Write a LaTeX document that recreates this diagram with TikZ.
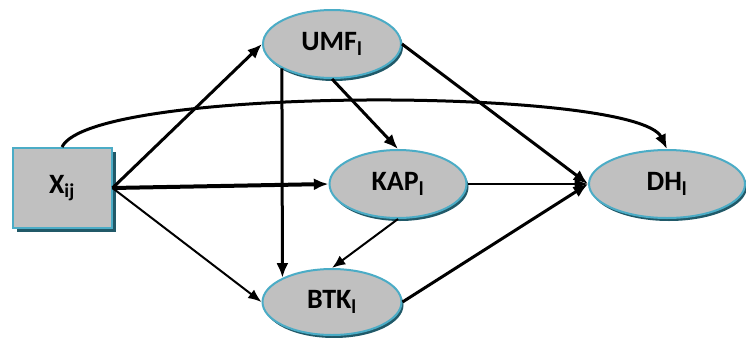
\documentclass[tikz,border=0pt]{standalone}
\usepackage{fontspec}
\setmainfont{Carlito}
\usetikzlibrary{shapes.geometric,shadows,arrows.meta}

\definecolor{nodegray}{RGB}{192,192,192}
\definecolor{rim}{RGB}{75,172,198}
\definecolor{shade}{RGB}{33,89,104}

\begin{document}
\begin{tikzpicture}[x=0.75pt,y=0.75pt,
    latent/.style={ellipse, fill=nodegray, draw=rim, line width=1.5pt, inner sep=0pt,
        drop shadow={shadow xshift=1.5pt, shadow yshift=-2.25pt, fill=shade, opacity=1},
        font=\fontsize{21}{24}\selectfont\bfseries},
    observed/.style={rectangle, fill=nodegray, draw=rim, line width=1.5pt, inner sep=0pt,
        drop shadow={shadow xshift=3pt, shadow yshift=-3pt, fill=shade, opacity=1},
        font=\fontsize{21}{24}\selectfont\bfseries},
    bigarr/.style={line width=2.25pt, -{Latex[length=11pt,width=9pt]}},
    smallarr/.style={line width=1.2pt, -{Latex[length=10pt,width=8pt]}}]
    \useasboundingbox (0,0) rectangle (746,337);

    % nodes
    \node[observed, minimum width=74.25pt, minimum height=60pt] (X) at (62,149) {X\textsubscript{ij}};
    \node[latent, minimum width=103.5pt, minimum height=51pt] (UMF) at (332,293) {UMF\textsubscript{l}};
    \node[latent, minimum width=102.75pt, minimum height=51pt] (KAP) at (398,153) {KAP\textsubscript{l}};
    \node[latent, minimum width=104.25pt, minimum height=49.5pt] (BTK) at (332,35) {BTK\textsubscript{l}};
    \node[latent, minimum width=117pt, minimum height=51pt] (DH) at (667,153) {DH\textsubscript{l}};

    % paths
    \draw[bigarr] (X.east) -- (UMF.west);
    \draw[bigarr, line width=3pt] (X.east) -- (KAP.west);
    \draw[smallarr, line width=1.5pt] (X.east) -- (BTK.west);
    \draw[bigarr] (UMF.206) -- (BTK.154);
    \draw[bigarr] (UMF.south) -- (KAP.north);
    \draw[bigarr] (UMF.east) -- (DH.west);
    \draw[smallarr] (KAP.east) -- (DH.west);
    \draw[smallarr, line width=1.5pt] (KAP.south) -- (BTK.north);
    \draw[bigarr] (BTK.east) -- (DH.west);
    \draw[bigarr] (X.north) .. controls +(30,62) and +(-30,62) .. (DH.north);
\end{tikzpicture}
\end{document}
